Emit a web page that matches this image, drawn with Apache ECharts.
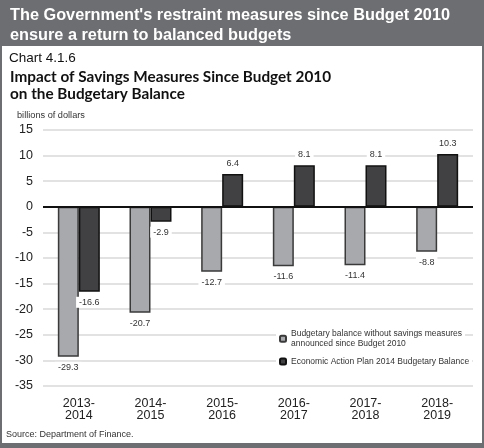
<!DOCTYPE html>
<html><head><meta charset="utf-8">
<script src="https://cdn.jsdelivr.net/npm/echarts@6/dist/echarts.min.js"></script>
<style>html,body{margin:0;padding:0;background:#fff}#c{width:484px;height:448px}</style>
</head><body><div id="c"></div>
<script>
const categories = ['2013-\n2014', '2014-\n2015', '2015-\n2016', '2016-\n2017', '2017-\n2018', '2018-\n2019'];
const seriesNames = ['Budgetary balance without savings measures\nannounced since Budget 2010', 'Economic Action Plan 2014 Budgetary Balance'];
const withoutSavings = [-29.3, -20.7, -12.7, -11.6, -11.4, -8.8];
const actionPlan = [-16.6, -2.9, 6.4, 8.1, 8.1, 10.3];
const yMin = -35, yMax = 15, yStep = 5;
const bannerLines = "The Government's restraint measures since Budget 2010\nensure a return to balanced budgets";
const chartNumber = 'Chart 4.1.6';
const subtitle = 'Impact of Savings Measures Since Budget 2010\non the Budgetary Balance';
const unitLabel = 'billions of dollars';
const sourceNote = 'Source: Department of Finance.';

const SANS = '"Liberation Sans", Arial, sans-serif';
const FRAME = '#6d6e71';

function labelData(arr) {
  return arr.map(v => ({
    value: v,
    label: { position: v < 0 ? 'bottom' : 'top' }
  }));
}
const labelStyle = {
  show: true, distance: 5, color: '#333', fontFamily: SANS, fontSize: 9,
  backgroundColor: '#fff', padding: [1, 3],
  formatter: p => p.value.toFixed(1)
};

const chart = echarts.init(document.getElementById('c'), null, { renderer: 'canvas' });
chart.setOption({
  backgroundColor: '#fff',
  animation: false,
  grid: { left: 43, right: 11, top: 130, bottom: 62, containLabel: false },
  xAxis: {
    type: 'category', data: categories,
    axisLine: { show: false }, axisTick: { show: false },
    axisLabel: { color: '#222', fontFamily: SANS, fontSize: 12.5, lineHeight: 12.5, margin: 11 }
  },
  yAxis: {
    type: 'value', min: yMin, max: yMax, interval: yStep,
    axisLine: { show: false }, axisTick: { show: false },
    axisLabel: { color: '#222', fontFamily: SANS, fontSize: 12.5, margin: 10 },
    splitLine: { lineStyle: { color: '#d9d9d9', width: 1.5 } }
  },
  legend: [
    {
      data: [seriesNames[0]], left: 276, top: 321, orient: 'vertical',
      itemWidth: 6, itemHeight: 6, backgroundColor: '#fff', padding: [2, 3, 2, 3],
      textStyle: { fontFamily: SANS, fontSize: 8.5, color: '#333', lineHeight: 10.5, padding: [10.5, 0, 0, 0] },
      selectedMode: false
    },
    {
      data: [seriesNames[1]], left: 276, top: 355, orient: 'vertical',
      itemWidth: 6, itemHeight: 6, backgroundColor: '#fff', padding: [2, 3, 2, 3],
      textStyle: { fontFamily: SANS, fontSize: 8.5, color: '#333' },
      selectedMode: false
    }
  ],
  series: [
    {
      name: seriesNames[0], type: 'bar', data: labelData(withoutSavings),
      barWidth: 21, barGap: '0%',
      itemStyle: { color: '#a7a9ac', borderColor: '#3a3a3a', borderWidth: 1.5 },
      label: labelStyle,
      markLine: {
        silent: true, symbol: 'none', label: { show: false },
        lineStyle: { color: '#111', width: 2, type: 'solid' },
        data: [{ yAxis: 0 }], z: 10
      }
    },
    {
      name: seriesNames[1], type: 'bar', data: labelData(actionPlan),
      barWidth: 21, barGap: '0%',
      itemStyle: { color: '#414042', borderColor: '#111', borderWidth: 1.5 },
      label: labelStyle
    }
  ],
  graphic: [
    { type: 'rect', shape: { x: 0, y: 0, width: 484, height: 46 }, style: { fill: FRAME }, silent: true },
    { type: 'rect', shape: { x: 0, y: 0, width: 2, height: 448 }, style: { fill: FRAME }, silent: true },
    { type: 'rect', shape: { x: 482, y: 0, width: 2, height: 448 }, style: { fill: FRAME }, silent: true },
    { type: 'rect', shape: { x: 0, y: 443, width: 484, height: 5 }, style: { fill: FRAME }, silent: true },
    { type: 'text', left: 10, top: 6, style: { text: bannerLines, fill: '#fff', font: 'bold 16.3px ' + SANS, lineHeight: 20 } },
    { type: 'text', left: 9, top: 51, style: { text: chartNumber, fill: '#111', font: '13.5px ' + SANS } },
    { type: 'text', left: 10, top: 69, style: { text: subtitle, fill: '#111', font: 'bold 15.3px Lato, "Open Sans", sans-serif', lineHeight: 16.5 } },
    { type: 'text', left: 17, top: 111, style: { text: unitLabel, fill: '#333', font: '9.2px ' + SANS } },
    { type: 'text', left: 6, top: 430, style: { text: sourceNote, fill: '#333', font: '9px ' + SANS } }
  ]
});
</script></body></html>
